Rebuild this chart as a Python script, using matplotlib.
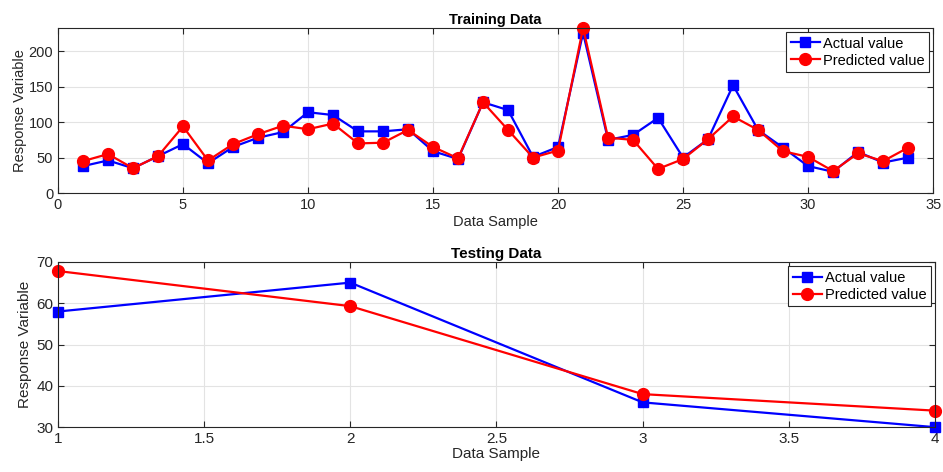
import matplotlib.pyplot as plt
import numpy as np

# training data (samples 1..34)
train_x = list(range(1, 35))
train_actual = [38, 46, 35, 52, 69, 42, 65, 78, 86, 114, 110, 87, 87, 90, 59, 48,
                128, 117, 51, 65, 226, 75, 82, 106, 50, 76, 152, 89, 64, 38, 30, 58, 43, 50]
train_pred = [45, 55, 35, 52, 94, 46, 69, 83, 95, 90, 98, 70, 71, 89, 65, 49,
              128, 89, 50, 60, 233, 78, 75, 34, 48, 76, 108, 89, 59, 51, 31, 56, 45, 64]

# testing data (samples 1..4)
test_x = [1, 2, 3, 4]
test_actual = [58, 65, 36, 30]
test_pred = [67.8, 59.3, 38, 34]
test_xticks = [1, 1.5, 2, 2.5, 3, 3.5, 4]
test_xticklabels = ["1", "1.5", "2", "2.5", "3", "3.5", "4"]

plt.rcParams['font.family'] = ['Liberation Sans', 'DejaVu Sans']
txt = '#262626'

fig = plt.figure(figsize=(9.43, 4.72), dpi=100)


def style(ax, fs):
    ax.grid(True, color='#e3e3e3', linewidth=0.8)
    ax.set_axisbelow(True)
    ax.tick_params(direction='in', top=True, right=True, colors=txt, labelsize=fs,
                   length=4)
    for s in ax.spines.values():
        s.set_color('#262626')
        s.set_linewidth(0.8)


# Training plot
ax1 = fig.add_axes([0.0615, 0.591, 0.928, 0.35])
ax1.plot(train_x, train_actual, '-s', color='#0000ff', lw=1.6, ms=6.5,
         label='Actual value', clip_on=False)
ax1.plot(train_x, train_pred, '-o', color='#ff0000', lw=1.6, ms=8.5,
         label='Predicted value', clip_on=False)
ax1.set_xlim(0, 35)
ax1.set_ylim(0, 233)
ax1.set_xticks([0, 5, 10, 15, 20, 25, 30, 35])
ax1.set_yticks([0, 50, 100, 150, 200])
style(ax1, 10.5)
ax1.set_title('Training Data', fontsize=10.5, fontweight='bold', pad=3)
ax1.set_xlabel('Data Sample', fontsize=10.5, color=txt, labelpad=2)
ax1.set_ylabel('Response Variable', fontsize=10.5, color=txt, labelpad=1)
leg = ax1.legend(loc='upper right', fontsize=10.5, fancybox=False, framealpha=1,
                 edgecolor='#262626', borderpad=0.3, labelspacing=0.2,
                 handlelength=2.0, handletextpad=0.2, borderaxespad=0.3)
leg.get_frame().set_linewidth(0.8)

# Testing plot
ax2 = fig.add_axes([0.0615, 0.095, 0.930, 0.35])
ax2.plot(test_x, test_actual, '-s', color='#0000ff', lw=1.6, ms=6.5,
         label='Actual value', clip_on=False)
ax2.plot(test_x, test_pred, '-o', color='#ff0000', lw=1.6, ms=8.5,
         label='Predicted value', clip_on=False)
ax2.set_xlim(1, 4)
ax2.set_ylim(30, 70)
ax2.set_xticks(test_xticks)
ax2.set_xticklabels(test_xticklabels)
ax2.set_yticks([30, 40, 50, 60, 70])
style(ax2, 11)
ax2.set_title('Testing Data', fontsize=11, fontweight='bold', pad=3)
ax2.set_xlabel('Data Sample', fontsize=11, color=txt, labelpad=1)
ax2.set_ylabel('Response Variable', fontsize=11, color=txt, labelpad=3)
leg2 = ax2.legend(loc='upper right', fontsize=10.5, fancybox=False, framealpha=1,
                  edgecolor='#262626', borderpad=0.3, labelspacing=0.2,
                  handlelength=2.0, handletextpad=0.2, borderaxespad=0.3)
leg2.get_frame().set_linewidth(0.8)

fig.savefig('out.png', dpi=100)
